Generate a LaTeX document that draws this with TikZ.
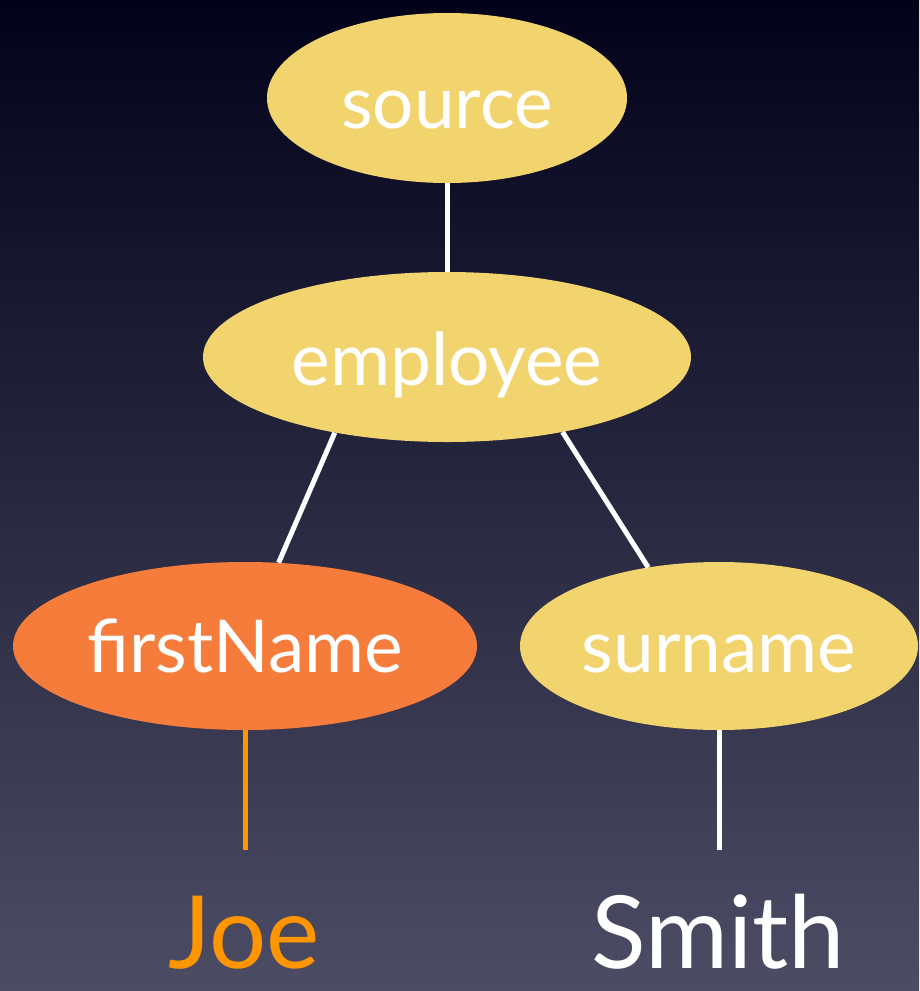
\documentclass[tikz,border=0pt]{standalone}
\usepackage{fontspec}
\setmainfont{Lato}
\usetikzlibrary{shapes.geometric}
\definecolor{bgtop}{HTML}{02021A}
\definecolor{bgmid}{HTML}{262742}
\definecolor{bgbot}{HTML}{4C4C64}
\definecolor{bubyellow}{HTML}{F2D46E}
\definecolor{buborange}{HTML}{F67C3C}
\definecolor{joeorange}{HTML}{FF9500}
\tikzset{
  bub/.style={ellipse, inner sep=0pt, fill=#1, draw=none},
  lbl/.style={font=\fontsize{73}{80}\selectfont, text=white, anchor=base, inner sep=0pt},
  leaf/.style={font=\fontsize{101}{110}\selectfont, anchor=base, inner sep=0pt},
  link/.style={line width=5pt, draw=white}
}
\begin{document}
\begin{tikzpicture}[x=1pt,y=-1pt]
\shade[top color=bgtop, middle color=bgmid, bottom color=bgbot] (0,0) rectangle (919,991);
\useasboundingbox (0,0) rectangle (919,991);
% ellipses
\node[bub=bubyellow, minimum width=360pt, minimum height=170pt] (src) at (447,98) {};
\node[bub=bubyellow, minimum width=488pt, minimum height=170pt] (emp) at (447,357) {};
\node[bub=buborange, minimum width=464pt, minimum height=168pt] (fn) at (245,646) {};
\node[bub=bubyellow, minimum width=398pt, minimum height=168pt] (sn) at (719,646) {};
% connectors
\draw[link] (src.south) -- (emp.north);
\draw[link] (emp.214) -- (fn.68.6);
\draw[link] (emp.327) -- (sn.132.4);
\coordinate (fnleaf) at (245,850);
\coordinate (snleaf) at (719,850);
\draw[link, draw=joeorange] (fn.south) -- (fnleaf);
\draw[link] (sn.south) -- (snleaf);
% labels
\node[lbl] (srct) at (447,128) {source};
\node[lbl] (empt) at (447,385) {employee};
\node[lbl] (fnt) at (245,672) {firstName};
\node[lbl] (snt) at (719,672) {surname};
% leaves
\node[leaf, text=joeorange] (joe) at (244,968) {Joe};
\node[leaf, text=white] (smith) at (718,968) {Smith};
\end{tikzpicture}
\end{document}
